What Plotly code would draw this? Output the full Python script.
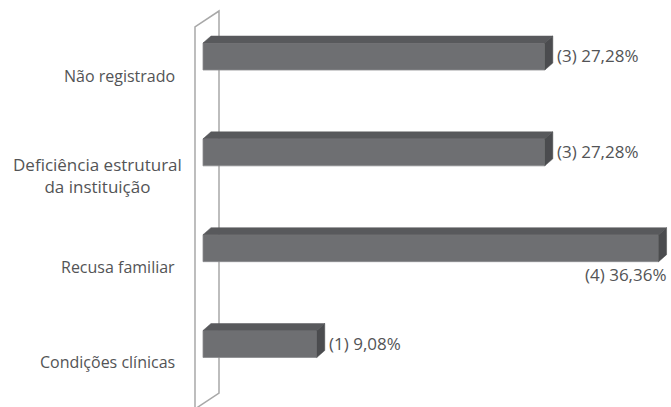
import plotly.graph_objects as go

# ---- data (top to bottom as in the picture) ----
categories = ["Não registrado", "Deficiência estrutural<br>da instituição", "Recusa familiar", "Condições clínicas"]
counts = [3, 3, 4, 1]
percents = [27.28, 27.28, 36.36, 9.08]

W, H = 671, 407
# pixel geometry helpers
X0_PX = 203.0          # value 0
PX_PER_UNIT = 12.53
Y0_PX = 344.0          # centre of lowest bar
PX_PER_CAT = 95.83

xr = [-X0_PX / PX_PER_UNIT, (W - X0_PX) / PX_PER_UNIT]
yr = [-(H - Y0_PX) / PX_PER_CAT, Y0_PX / PX_PER_CAT]

n = len(categories)
ypos = [n - 1 - i for i in range(n)]
half = 13.5 / PX_PER_CAT
ddx = 8 / PX_PER_UNIT
ddy = 7 / PX_PER_CAT

front = "#6e6f72"
top_c = "#58595c"
side_c = "#4b4c4f"
txt = "#535456"
FONT = "Open Sans"

fig = go.Figure()
fig.add_trace(go.Bar(
    x=percents, y=ypos, orientation="h", width=2 * half,
    marker=dict(color=front, line=dict(color="#8a8b8e", width=0.8)),
    hoverinfo="skip", showlegend=False,
))

for v, c in zip(percents, ypos):
    # top face
    fig.add_trace(go.Scatter(
        x=[0, v, v + ddx, ddx, 0], y=[c + half, c + half, c + half + ddy, c + half + ddy, c + half],
        fill="toself", fillcolor=top_c, mode="lines", line=dict(color=top_c, width=0.5),
        hoverinfo="skip", showlegend=False))
    # side face
    fig.add_trace(go.Scatter(
        x=[v, v + ddx, v + ddx, v, v], y=[c - half, c - half + ddy, c + half + ddy, c + half, c - half],
        fill="toself", fillcolor=side_c, mode="lines", line=dict(color=side_c, width=0.5),
        hoverinfo="skip", showlegend=False))

# wall (decoration) in paper coords
def px(x, y):
    return x / W, 1 - y / H

pts = [(195, 420), (195, 27), (219, 11), (219, 393), (195, 409)]
path = "M " + " L ".join(f"{px(x, y)[0]:.5f},{px(x, y)[1]:.5f}" for x, y in pts)
fig.add_shape(type="path", path=path, xref="paper", yref="paper", layer="below",
              line=dict(color="#a8a8a8", width=1.5))

annotations = []
# category labels
label_specs = [
    dict(x=177 / W, xanchor="right", align="right", yshift=-19, size=16),
    dict(x=97.5 / W, xanchor="center", align="center", yshift=-23, size=17),
    dict(x=177 / W, xanchor="right", align="right", yshift=-19, size=16),
    dict(x=177 / W, xanchor="right", align="right", yshift=-18, size=16),
]
for cat, c, spec in zip(categories, ypos, label_specs):
    spec = dict(spec)
    size = spec.pop("size")
    annotations.append(dict(text=cat, xref="paper", yref="y", y=c, showarrow=False,
                            font=dict(family=FONT, size=size, color=txt), **spec))

# value labels
for k, (cnt, v, c) in enumerate(zip(counts, percents, ypos)):
    t = f"({cnt}) {v:.2f}".replace(".", ",") + "%"
    if v == max(percents):
        annotations.append(dict(text=t, x=v, y=c, xref="x", yref="y", showarrow=False,
                                xanchor="right", xshift=10, yshift=-26,
                                font=dict(family=FONT, size=17, color=txt)))
    else:
        annotations.append(dict(text=t, x=v, y=c, xref="x", yref="y", showarrow=False,
                                xanchor="left", xshift=10, yshift=1,
                                font=dict(family=FONT, size=17, color=txt)))

fig.update_layout(
    width=W, height=H, margin=dict(l=0, r=0, t=0, b=0),
    paper_bgcolor="white", plot_bgcolor="white",
    xaxis=dict(range=xr, visible=False, fixedrange=True),
    yaxis=dict(range=yr, visible=False, fixedrange=True),
    annotations=annotations, showlegend=False,
)

fig.write_html("out.html")
